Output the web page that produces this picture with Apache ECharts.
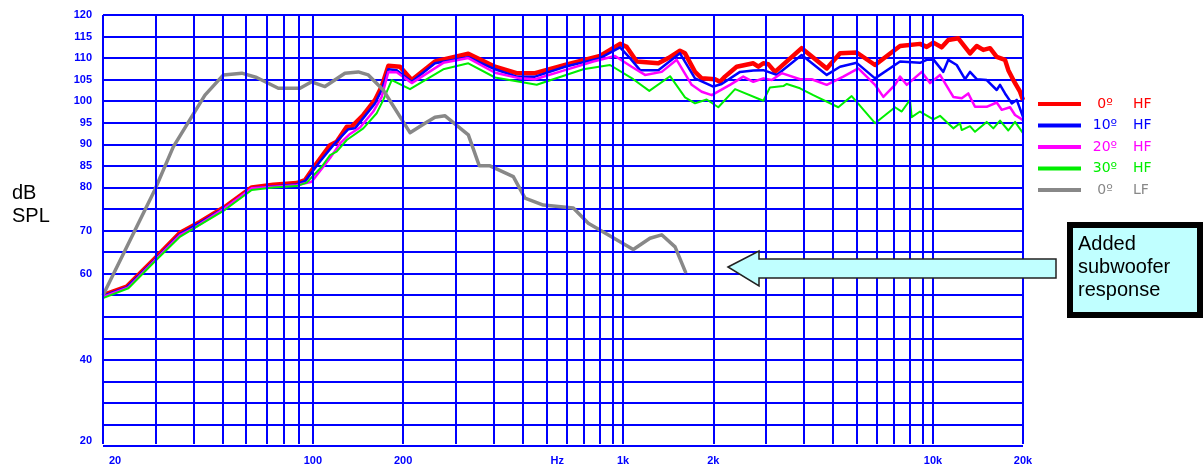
<!DOCTYPE html>
<html>
<head>
<meta charset="utf-8">
<script src="https://cdn.jsdelivr.net/npm/echarts@6/dist/echarts.min.js"></script>
<style>
html,body{margin:0;padding:0;background:#fff;}
#chart{width:1204px;height:466px;}
</style>
</head>
<body>
<div id="chart"></div>
<script>
// ---- data (frequency in Hz, level in dB SPL) ----
const hf0Hz = [20,23.9,29.5,35.7,41.4,50.0,61.1,71.8,85.6,91.2,99.5,110,115.6,124.7,129.4,141.2,154.2,162.1,170.4,186,203.1,241.8,310.7,379.7,446.7,512.6,642,835,970.6,1020.6,1100,1294,1395,1522,1581,1704,1792,1980,2056,2134,2330,2640,2742,2846,2954,3108,3796,4582,5062,5738,6584,7944,9230,9705,10200,10862,11414,12304,13434,14128,14846,15612,16418,17474,17912,18600,19556,20000];
const hf0Db = [55.0,57.0,63.5,69.5,72.0,75.5,80.0,80.6,81.0,81.7,85.6,89.8,90.6,94.1,94.1,96.8,100.3,103.4,108.2,108.0,104.9,109.2,111.0,108.0,106.5,106.5,108.4,110.5,113.3,112.6,109.2,108.8,110.0,111.7,111.1,106.8,105.3,105.1,104.5,105.7,108.0,108.8,108.0,108.8,108.6,106.8,112.3,107.6,111.1,111.3,108.4,112.8,113.3,112.6,113.6,112.5,114.2,114.6,111.1,112.8,111.9,112.3,110.3,109.6,107.2,104.9,102.2,100.3];

const hf10Hz = [20,23.9,29.5,35.7,41.4,50.0,61.1,85.6,91.2,102.0,112.7,126.2,132.7,154.2,162.1,170.4,181.5,203.1,241.8,310.7,379.7,446.7,512.6,642,835,970.6,1046,1128,1294,1522,1704,1955,2082,2390,2640,2846,3148,3796,4582,5062,5738,6584,7944,9230,9705,10200,10994,11414,12158,12940,13434,14128,15228,16418,16830,17474,18378,19080,20000];
const hf10Db = [54.8,56.8,63.2,69.2,71.8,75.3,79.8,80.7,81.5,86.0,89.8,93.5,93.7,99.5,102.6,107.4,107.2,104.5,108.8,110.2,107.4,105.7,105.7,108.0,110.0,112.5,110.0,107.2,107.2,111.1,105.3,103.4,104.0,106.8,107.1,107.2,106.1,110.7,106.1,108.0,108.9,105.3,109.2,108.9,109.6,109.7,106.8,109.6,108.4,105.1,106.8,105.1,104.9,102.6,103.8,101.8,99.5,100.3,96.4];

const hf20Hz = [20,24.2,29.5,35.7,39.4,50.0,61.1,85.6,95.8,110,118.6,127.8,137.8,152.2,162.1,170.4,181.5,203.1,257.4,310.7,379.7,458,512.6,642,794,934.6,1059,1171,1327,1485,1662,1792,1932,2216,2448,2640,2846,3032,3268,3748,4092,4582,5188,5808,6584,7008,7650,7944,8354,9350,9950,10724,11852,12624,13264,13948,15228,16418,17046,18142,18840,20000];
const hf20Db = [54.6,56.8,63.0,69.0,70.5,75.2,79.8,80.5,81.3,86.8,90.2,92.4,93.9,97.6,101.0,106.8,106.7,104.2,108.9,110.0,106.6,105.3,105.1,107.2,109.2,110.5,108.0,106.1,106.8,109.6,103.8,102.2,101.4,103.8,105.7,104.5,105.3,104.9,106.5,105.1,105.1,103.8,105.7,107.6,103.8,101.0,103.8,105.7,103.8,106.8,104.2,106.1,101.0,100.7,101.8,98.7,98.7,99.7,98.0,98.6,96.8,95.6];

const hf30Hz = [20,24.2,29.5,35.7,41.4,50.0,61.1,71.8,85.6,92.3,103.3,110,115.6,124.7,141.2,156.1,164.1,174.8,200.5,257.4,310.7,379.7,519.2,736.6,900.2,1072,1209,1413,1581,1704,1860,2030,2302,2846,2992,3308,3394,3748,4142,4998,5526,6584,7650,8046,8562,8672,9230,10200,10724,11852,12464,12624,13434,13948,15228,16006,16830,17912,18840,20000];
const hf30Db = [54.3,56.6,62.8,68.6,71.3,74.8,79.4,80.0,80.3,81.1,84.8,87.5,88.3,91.0,93.7,97.2,100.3,104.9,102.8,107.4,108.8,105.5,103.8,107.4,108.4,105.1,102.4,105.8,100.9,99.5,100.4,98.6,102.8,100.1,103.2,103.5,104.0,103.0,101.4,98.6,101.2,94.9,98.6,97.6,100.3,96.3,97.6,95.8,96.6,93.7,94.9,93.3,94.2,92.9,95.2,93.7,95.5,93.2,95.2,92.6];

const lf0Hz = [20,29.5,33.9,43.0,49.4,56.7,63.4,74.6,87.8,95.8,105.9,123,136,146.6,164,200.5,224.4,241.8,260.9,310.7,337.4,365.6,435.5,475.5,545.6,683.4,764.8,1072,1215,1327,1467,1592];
const lf0Db = [55.0,79.4,89.4,101.4,106.1,106.5,105.5,103.0,103.0,104.5,103.4,106.5,106.8,106.1,102.6,92.7,94.9,96.3,96.6,92.2,85.0,85.0,82.5,77.5,75.9,75.2,71.7,65.6,68.2,69.0,66.2,60.1];

const seriesNames = ['0º HF','10º HF','20º HF','30º HF','0º LF'];

// ---- axis ticks / graph-paper lines ----
const yLabelValues = [120,115,110,105,100,95,90,85,80,70,60,40,20];
const xTickHz   = [20,100,200,652,1000,2000,10000,20000];
const xTickText = ['20','100','200','Hz','1k','2k','10k','20k'];
const paperLinesA = [20,30,40,50,60,70,80,90,100,200,300,400,500,600,700,800,900,1000];
const paperLinesB = [1000,2000,3000,4000,5000,6000,7000,8000,9000,10000];
const paperLinesC = [10000,20000];

const zip = (xs, ys) => xs.map((x, i) => [x, ys[i]]);
const BLUE = '#0000ff';
const TICK_FONT = {color: BLUE, fontWeight: 'bold', fontSize: 11, fontFamily: 'Liberation Sans'};

function tickText(v) {
  for (let i = 0; i < xTickHz.length; i++) {
    if (Math.abs(Math.log(v / xTickHz[i])) < 0.01) {
      return i === 0 ? '{p|' + xTickText[i] + '}' : xTickText[i];
    }
  }
  return '';
}

const chart = echarts.init(document.getElementById('chart'), null, {renderer: 'canvas'});

const gridBase = {top: 15, bottom: 20, containLabel: false};
const grids = [
  Object.assign({left: 103, right: 181}, gridBase),
  Object.assign({left: 103, width: 510}, gridBase),
  Object.assign({left: 623, width: 300}, gridBase),
  Object.assign({left: 933, width: 90}, gridBase)
];

function subX(gi, min, max, labels) {
  return {
    type: 'log', gridIndex: gi, min: min, max: max,
    axisLine: {show: false}, axisTick: {show: false}, splitLine: {show: false},
    axisLabel: Object.assign({show: true, customValues: labels, formatter: tickText, margin: 11,
      alignMinLabel: gi === 1 ? 'left' : null,
      rich: {p: {padding: [0, 0, 0, 6], color: BLUE, fontWeight: 'bold', fontSize: 11, fontFamily: 'Liberation Sans'}}
    }, TICK_FONT)
  };
}
function subY(gi) {
  return {type: 'value', gridIndex: gi, min: 20, max: 120, show: false,
    axisLine: {show: false}, splitLine: {show: false}, axisLabel: {show: false}};
}
function paper(gi, lines) {
  return {
    type: 'line', xAxisIndex: gi, yAxisIndex: gi, data: [], z: 1, silent: true,
    markLine: {
      symbol: ['none', 'none'], silent: true, animation: false,
      label: {show: false},
      lineStyle: {color: BLUE, width: 2, type: 'solid', opacity: 1},
      emphasis: {disabled: true},
      data: lines.map(v => ({xAxis: v}))
    }
  };
}
function curve(name, color, width, xs, ys) {
  return {
    name: name, type: 'line', xAxisIndex: 0, yAxisIndex: 0, z: 3,
    data: zip(xs, ys), showSymbol: false, symbol: 'none', smooth: false,
    color: color, lineStyle: {color: color, width: width, join: 'round'},
    emphasis: {disabled: true}, animation: false
  };
}

const legendColors = ['#ff0000', '#0000ff', '#ff00ff', '#00ee00', '#888888'];

chart.setOption({
  animation: false,
  grid: grids,
  xAxis: [
    {type: 'log', gridIndex: 0, min: 20, max: 20000, show: false,
      axisLine: {show: false}, splitLine: {show: false}, axisLabel: {show: false}},
    subX(1, 20, 1000, xTickHz.slice(0, 4)),
    subX(2, 1000, 10000, xTickHz.slice(4, 6)),
    subX(3, 10000, 20000, xTickHz.slice(6, 8))
  ],
  yAxis: [
    {type: 'value', gridIndex: 0, min: 20, max: 120, interval: 5,
      axisLine: {show: false}, axisTick: {show: false},
      splitLine: {show: true, lineStyle: {color: BLUE, width: 2}},
      axisLabel: Object.assign({margin: 11, verticalAlignMinLabel: 'bottom',
        formatter: v => (yLabelValues.indexOf(v) >= 0 ? String(v) : '')}, TICK_FONT)},
    subY(1), subY(2), subY(3)
  ],
  legend: {
    orient: 'vertical', left: 1033, top: 91, itemWidth: 43, itemHeight: 4, itemGap: 5.5,
    icon: 'rect', selectedMode: false,
    data: seriesNames.map((n, i) => ({name: n, textStyle: {color: legendColors[i]}})),
    formatter: function (name) {
      const p = name.split(' ');
      return '{a|' + p[0] + '}{b|' + p[1] + '}';
    },
    textStyle: {
      fontFamily: 'DejaVu Sans', fontSize: 14, lineHeight: 16,
      rich: {
        a: {width: 38, align: 'right', fontFamily: 'DejaVu Sans', fontSize: 14, lineHeight: 16},
        b: {padding: [0, 0, 0, 9], fontFamily: 'DejaVu Sans', fontSize: 14, lineHeight: 16}
      }
    }
  },
  series: [
    paper(1, paperLinesA), paper(2, paperLinesB), paper(3, paperLinesC),
    curve(seriesNames[0], '#ff0000', 4.5, hf0Hz, hf0Db),
    curve(seriesNames[1], '#0000ff', 2.5, hf10Hz, hf10Db),
    curve(seriesNames[2], '#ff00ff', 2.5, hf20Hz, hf20Db),
    curve(seriesNames[3], '#00ee00', 2, hf30Hz, hf30Db),
    curve(seriesNames[4], '#888888', 3.5, lf0Hz, lf0Db)
  ],
  graphic: [
    {type: 'text', x: 12, y: 182, z: 10,
      style: {text: 'dB\nSPL', font: '20px "Liberation Sans"', lineHeight: 23, fill: '#000', verticalAlign: 'top'}},
    {type: 'polygon', z: 10,
      shape: {points: [[728, 267], [759, 251], [759, 259], [1056, 259], [1056, 278], [759, 278], [759, 286]]},
      style: {fill: '#c0ffff', stroke: '#222', lineWidth: 1.5}},
    {type: 'rect', z: 10,
      shape: {x: 1070, y: 225, width: 130, height: 90},
      style: {fill: '#c0ffff', stroke: '#000', lineWidth: 6}},
    {type: 'text', x: 1078, y: 233, z: 11,
      style: {text: 'Added\nsubwoofer\nresponse', font: '20px "Liberation Sans"', lineHeight: 23, fill: '#000', verticalAlign: 'top'}}
  ]
});
</script>
</body>
</html>
